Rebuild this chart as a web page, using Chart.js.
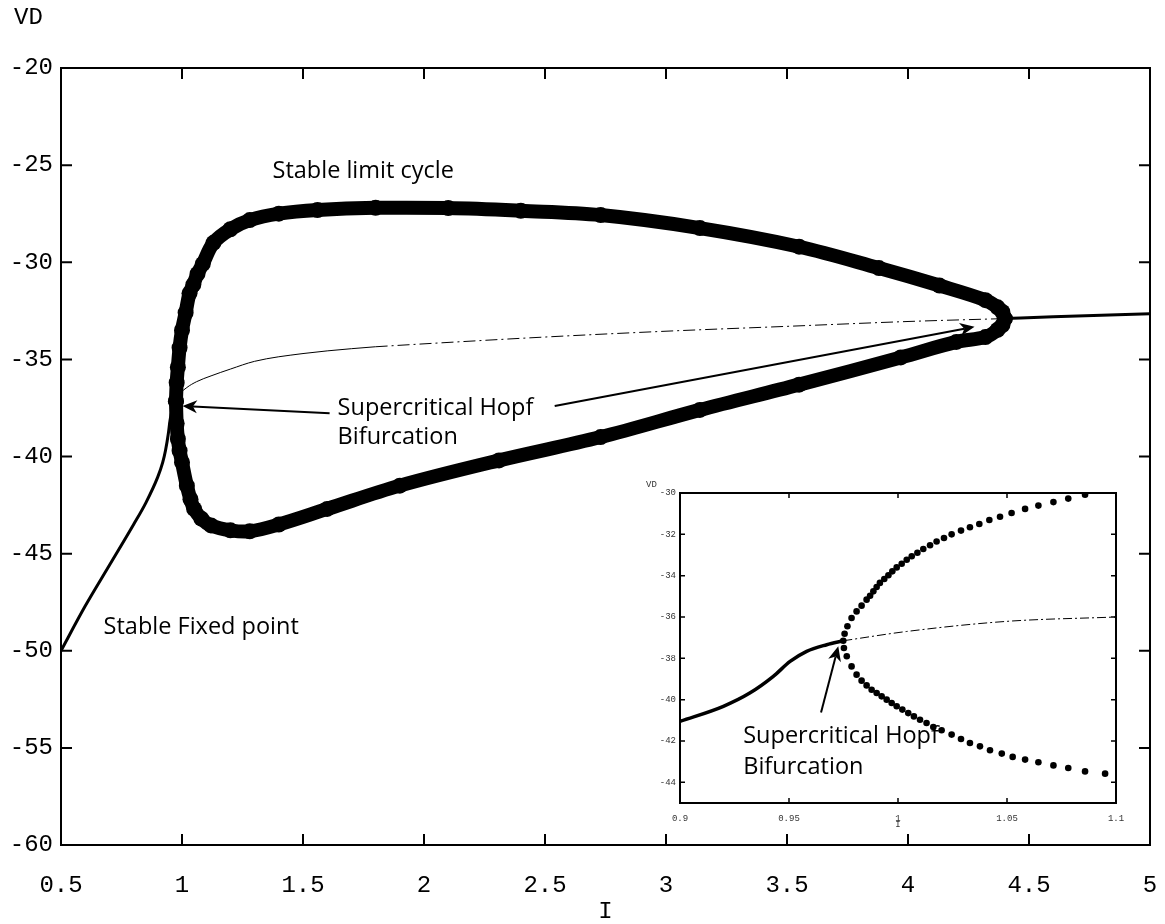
<!DOCTYPE html>
<html>
<head>
<meta charset="utf-8">
<script src="https://cdn.jsdelivr.net/npm/chart.js@4.4.0/dist/chart.umd.min.js"></script>
<style>
  html, body { margin: 0; padding: 0; background: #fff; }
  #wrap { position: relative; width: 1165px; height: 924px; }
  #main { position: absolute; left: 0; top: 0; }
  #inset { position: absolute; left: 636px; top: 475px; }
</style>
</head>
<body>
<div id="wrap">
  <canvas id="main" width="1165" height="924"></canvas>
  <canvas id="inset" width="500" height="360"></canvas>
</div>
<script>
// tick labels
const mainXTicks = [0.5, 1, 1.5, 2, 2.5, 3, 3.5, 4, 4.5, 5];
const mainYTicks = [-60, -55, -50, -45, -40, -35, -30, -25, -20];
const insetXTicks = [0.9, 0.95, 1, 1.05, 1.1];
const insetYTicks = [-44, -42, -40, -38, -36, -34, -32, -30];

// main plot: stable fixed point branch (left of the first Hopf)
const stableLowI = [0.5, 0.6, 0.7, 0.8, 0.85, 0.9, 0.92, 0.932, 0.943, 0.9505, 0.958, 0.9673, 0.975];
const stableLowV = [-50, -47.7, -45.6, -43.5, -42.4, -41.05, -40.32, -39.68, -38.87, -38.15, -37.66, -37.34, -37.15];

// unstable fixed point branch (thin, dash-dot after solidUntil)
const unstableI = [0.975, 0.99, 1.02, 1.06, 1.12, 1.2, 1.3, 1.5, 1.7, 1.8, 2.0, 2.5, 3.0, 3.5, 4.0, 4.4];
const unstableV = [-37.15, -36.8, -36.45, -36.15, -35.85, -35.5, -35.1, -34.7, -34.45, -34.35, -34.2, -33.85, -33.55, -33.3, -33.05, -32.9];
const solidUntil = 1.8;

// stable branch right of the second Hopf
const stableHighI = [4.4, 4.6, 5.0];
const stableHighV = [-32.9, -32.8, -32.65];

// stable limit cycle: max and min of VD
const cycleMaxI = [0.975, 0.978, 0.983, 0.99, 1.0, 1.015, 1.031, 1.047, 1.064, 1.086, 1.13, 1.2, 1.28, 1.4, 1.56, 1.8, 2.1, 2.4, 2.73, 3.14, 3.55, 3.88, 4.13, 4.32, 4.37, 4.39, 4.4];
const cycleMaxV = [-37.15, -36.2, -35.4, -34.4, -33.5, -32.6, -31.6, -31.15, -30.6, -30.08, -29.0, -28.3, -27.83, -27.5, -27.31, -27.2, -27.21, -27.35, -27.57, -28.24, -29.2, -30.3, -31.2, -31.95, -32.32, -32.56, -32.9];
const cycleMinI = [0.975, 0.978, 0.983, 0.99, 1.0, 1.02, 1.035, 1.05, 1.08, 1.12, 1.2, 1.28, 1.4, 1.6, 1.9, 2.31, 2.73, 3.14, 3.55, 3.97, 4.2, 4.32, 4.37, 4.39, 4.4];
const cycleMinV = [-37.15, -38.3, -39.1, -39.7, -40.3, -41.5, -42.2, -42.7, -43.2, -43.55, -43.8, -43.85, -43.5, -42.7, -41.5, -40.2, -39.0, -37.6, -36.3, -34.9, -34.1, -33.85, -33.48, -33.24, -32.9];

// inset (zoom around the first Hopf point)
const insetStableI = [0.9, 0.9199, 0.932, 0.9428, 0.9505, 0.9581, 0.9673, 0.9749];
const insetStableV = [-41.05, -40.32, -39.68, -38.87, -38.15, -37.66, -37.34, -37.15];
const insetUnstableI = [0.9749, 1.004, 1.05, 1.1];
const insetUnstableV = [-37.15, -36.7, -36.21, -36.0];
const insetMaxI = [0.9749, 0.9755, 0.9768, 0.9787, 0.981, 0.9833, 0.9856, 0.9872, 0.9887, 0.9902, 0.9917, 0.9937, 0.9956, 0.9974, 0.9994, 1.0017, 1.004, 1.0063, 1.0089, 1.0116, 1.0147, 1.0177, 1.0211, 1.0246, 1.0289, 1.033, 1.0373, 1.0419, 1.0468, 1.0521, 1.0583, 1.0644, 1.0713, 1.0781, 1.0858];
const insetMaxV = [-37.15, -36.81, -36.45, -36.05, -35.73, -35.45, -35.16, -34.97, -34.76, -34.55, -34.35, -34.16, -33.98, -33.79, -33.6, -33.42, -33.23, -33.06, -32.89, -32.71, -32.53, -32.35, -32.18, -32.0, -31.82, -31.66, -31.5, -31.31, -31.15, -30.97, -30.77, -30.61, -30.44, -30.27, -30.08];
const insetMinI = [0.9752, 0.9765, 0.9787, 0.981, 0.9833, 0.9856, 0.9879, 0.9902, 0.9925, 0.9948, 0.9971, 0.9994, 1.002, 1.0047, 1.0073, 1.0101, 1.0131, 1.0162, 1.02, 1.0246, 1.0289, 1.033, 1.0376, 1.0422, 1.0476, 1.0526, 1.0583, 1.0644, 1.0713, 1.0781, 1.0858, 1.095];
const insetMinV = [-37.5, -37.9, -38.39, -38.79, -39.08, -39.31, -39.52, -39.68, -39.84, -40.0, -40.16, -40.32, -40.48, -40.65, -40.81, -40.97, -41.13, -41.32, -41.48, -41.69, -41.9, -42.1, -42.26, -42.45, -42.61, -42.77, -42.9, -43.03, -43.18, -43.31, -43.47, -43.58];

function pts(xs, ys) {
  return xs.map((x, i) => ({ x: x, y: ys[i] }));
}

// box with inward ticks on all four sides, plus axis names
const framePlugin = {
  id: "frame",
  afterDraw(chart, args, opts) {
    const ctx = chart.ctx;
    const a = chart.chartArea;
    const sx = chart.scales.x, sy = chart.scales.y;
    ctx.save();
    ctx.strokeStyle = "#000";
    ctx.lineWidth = opts.lineWidth;
    ctx.strokeRect(a.left, a.top, a.right - a.left, a.bottom - a.top);
    ctx.lineWidth = opts.tickWidth;
    ctx.beginPath();
    sx.ticks.forEach(t => {
      const px = sx.getPixelForValue(t.value);
      ctx.moveTo(px, a.bottom); ctx.lineTo(px, a.bottom - opts.tickLen);
      ctx.moveTo(px, a.top); ctx.lineTo(px, a.top + opts.tickLen);
    });
    sy.ticks.forEach(t => {
      const py = sy.getPixelForValue(t.value);
      ctx.moveTo(a.left, py); ctx.lineTo(a.left + opts.tickLen, py);
      ctx.moveTo(a.right, py); ctx.lineTo(a.right - opts.tickLen, py);
    });
    ctx.stroke();
    ctx.fillStyle = opts.titleColor;
    ctx.font = opts.titleFont;
    ctx.textBaseline = "alphabetic";
    ctx.textAlign = "left";
    ctx.fillText(opts.yTitle.text, opts.yTitle.x, opts.yTitle.y);
    ctx.textAlign = "center";
    ctx.fillText(opts.xTitle.text, (a.left + a.right) / 2, opts.xTitle.y);
    ctx.restore();
  }
};

function drawArrow(ctx, x1, y1, x2, y2, size) {
  const ang = Math.atan2(y2 - y1, x2 - x1);
  const back = size * 0.65;
  ctx.beginPath();
  ctx.moveTo(x1, y1);
  ctx.lineTo(x2 - back * Math.cos(ang), y2 - back * Math.sin(ang));
  ctx.stroke();
  const w = 0.42;
  ctx.beginPath();
  ctx.moveTo(x2, y2);
  ctx.lineTo(x2 - size * Math.cos(ang - w), y2 - size * Math.sin(ang - w));
  ctx.lineTo(x2 - back * Math.cos(ang), y2 - back * Math.sin(ang));
  ctx.lineTo(x2 - size * Math.cos(ang + w), y2 - size * Math.sin(ang + w));
  ctx.closePath();
  ctx.fill();
}

// text labels and arrows placed in data coordinates
const notesPlugin = {
  id: "notes",
  afterDatasetsDraw(chart, args, opts) {
    const ctx = chart.ctx;
    const sx = chart.scales.x, sy = chart.scales.y;
    ctx.save();
    ctx.fillStyle = "#000";
    ctx.strokeStyle = "#000";
    ctx.font = opts.font;
    ctx.textAlign = "left";
    ctx.textBaseline = "alphabetic";
    opts.texts.forEach(t => {
      t.lines.forEach((line, i) => {
        ctx.fillText(line, sx.getPixelForValue(t.x), sy.getPixelForValue(t.y) + i * opts.lineHeight);
      });
    });
    ctx.lineWidth = opts.arrowWidth;
    opts.arrows.forEach(ar => {
      drawArrow(ctx, sx.getPixelForValue(ar.x1), sy.getPixelForValue(ar.y1),
        sx.getPixelForValue(ar.x2), sy.getPixelForValue(ar.y2), opts.headSize);
    });
    ctx.restore();
  }
};

const dashDot = [12, 4, 2, 4];
const monoFont = "'Liberation Mono', monospace";

new Chart(document.getElementById("main"), {
  type: "scatter",
  data: {
    datasets: [
      { data: pts(stableLowI, stableLowV), showLine: true, borderColor: "#000", borderWidth: 3, pointRadius: 0, cubicInterpolationMode: "monotone" },
      { data: pts(unstableI, unstableV).filter(p => p.x <= solidUntil), showLine: true, borderColor: "#000", borderWidth: 1, pointRadius: 0, cubicInterpolationMode: "monotone" },
      { data: pts(unstableI, unstableV).filter(p => p.x >= solidUntil), showLine: true, borderColor: "#000", borderWidth: 1, borderDash: dashDot, pointRadius: 0, cubicInterpolationMode: "monotone" },
      { data: pts(stableHighI, stableHighV), showLine: true, borderColor: "#000", borderWidth: 3, pointRadius: 0, cubicInterpolationMode: "monotone" },
      { data: pts(cycleMaxI, cycleMaxV), showLine: true, borderColor: "#000", borderWidth: 14, borderCapStyle: "round", borderJoinStyle: "round", pointRadius: 8, pointBackgroundColor: "#000", pointBorderWidth: 0, tension: 0.35 },
      { data: pts(cycleMinI, cycleMinV), showLine: true, borderColor: "#000", borderWidth: 14, borderCapStyle: "round", borderJoinStyle: "round", pointRadius: 8, pointBackgroundColor: "#000", pointBorderWidth: 0, tension: 0.35 }
    ]
  },
  options: {
    responsive: false,
    animation: false,
    layout: { padding: { top: 68, right: 15, left: 0, bottom: 0 } },
    plugins: {
      legend: { display: false },
      tooltip: { enabled: false },
      frame: {
        lineWidth: 2, tickWidth: 2, tickLen: 11,
        titleFont: "24px " + monoFont, titleColor: "#000",
        yTitle: { text: "VD", x: 14, y: 24 },
        xTitle: { text: "I", y: 918 }
      },
      notes: {
        font: "23.5px 'Open Sans', sans-serif",
        lineHeight: 29,
        arrowWidth: 2,
        headSize: 16,
        texts: [
          { x: 1.374, y: -25.66, lines: ["Stable limit cycle"] },
          { x: 0.676, y: -49.15, lines: ["Stable Fixed point"] },
          { x: 1.643, y: -37.87, lines: ["Supercritical Hopf", "Bifurcation"] }
        ],
        arrows: [
          { x1: 1.61, y1: -37.77, x2: 1.002, y2: -37.4 },
          { x1: 2.54, y1: -37.4, x2: 4.275, y2: -33.32 }
        ]
      }
    },
    scales: {
      x: {
        type: "linear", min: 0.5, max: 5,
        afterBuildTicks: s => { s.ticks = mainXTicks.map(v => ({ value: v })); },
        afterFit: s => { s.height = 79; s.paddingLeft = 0; s.paddingRight = 0; },
        grid: { display: false, drawTicks: false }, border: { display: false },
        ticks: { color: "#000", padding: 26, maxRotation: 0, font: { family: monoFont, size: 24 }, callback: v => String(v) }
      },
      y: {
        type: "linear", min: -60, max: -20,
        afterBuildTicks: s => { s.ticks = mainYTicks.map(v => ({ value: v })); },
        afterFit: s => { s.width = 61; s.paddingTop = 0; s.paddingBottom = 0; },
        grid: { display: false, drawTicks: false }, border: { display: false },
        ticks: { color: "#000", padding: 8, font: { family: monoFont, size: 24 }, callback: v => String(v) }
      }
    }
  },
  plugins: [framePlugin, notesPlugin]
});

new Chart(document.getElementById("inset"), {
  type: "scatter",
  data: {
    datasets: [
      { data: pts(insetStableI, insetStableV), showLine: true, borderColor: "#000", borderWidth: 3.5, pointRadius: 0, cubicInterpolationMode: "monotone" },
      { data: pts(insetUnstableI, insetUnstableV), showLine: true, borderColor: "#000", borderWidth: 1, borderDash: [9, 3, 2, 3], pointRadius: 0, cubicInterpolationMode: "monotone" },
      { data: pts(insetMaxI, insetMaxV), showLine: false, pointRadius: 3.3, pointBackgroundColor: "#000", pointBorderWidth: 0 },
      { data: pts(insetMinI, insetMinV), showLine: false, pointRadius: 3.3, pointBackgroundColor: "#000", pointBorderWidth: 0 }
    ]
  },
  options: {
    responsive: false,
    animation: false,
    layout: { padding: { top: 18, right: 20, left: 0, bottom: 0 } },
    plugins: {
      legend: { display: false },
      tooltip: { enabled: false },
      frame: {
        lineWidth: 2, tickWidth: 1.5, tickLen: 5,
        titleFont: "9px " + monoFont, titleColor: "#333",
        yTitle: { text: "VD", x: 10, y: 12 },
        xTitle: { text: "I", y: 352 }
      },
      notes: {
        font: "23.5px 'Open Sans', sans-serif",
        lineHeight: 31,
        arrowWidth: 2,
        headSize: 16,
        texts: [
          { x: 0.929, y: -42.09, lines: ["Supercritical Hopf", "Bifurcation"] }
        ],
        arrows: [
          { x1: 0.9647, y1: -40.62, x2: 0.9726, y2: -37.42 }
        ]
      }
    },
    scales: {
      x: {
        type: "linear", min: 0.9, max: 1.1,
        afterBuildTicks: s => { s.ticks = insetXTicks.map(v => ({ value: v })); },
        afterFit: s => { s.height = 32; s.paddingLeft = 0; s.paddingRight = 0; },
        grid: { display: false, drawTicks: false }, border: { display: false },
        ticks: { color: "#333", padding: 10, maxRotation: 0, font: { family: monoFont, size: 9 }, callback: v => String(v) }
      },
      y: {
        type: "linear", min: -45, max: -30,
        afterBuildTicks: s => { s.ticks = insetYTicks.map(v => ({ value: v })); },
        afterFit: s => { s.width = 44; s.paddingTop = 0; s.paddingBottom = 0; },
        grid: { display: false, drawTicks: false }, border: { display: false },
        ticks: { color: "#333", padding: 4, font: { family: monoFont, size: 9 }, callback: v => String(v) }
      }
    }
  },
  plugins: [framePlugin, notesPlugin]
});
</script>
</body>
</html>
